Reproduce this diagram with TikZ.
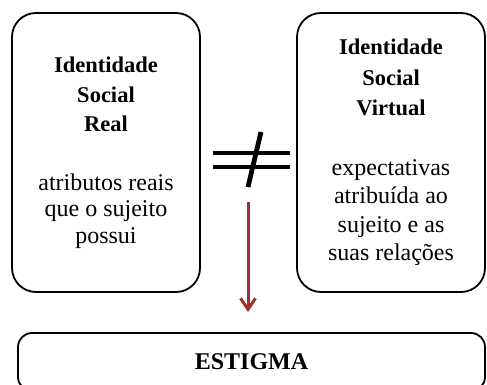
\documentclass[tikz,border=0pt]{standalone}
\usepackage{fontspec}
\setmainfont{Liberation Serif}
\usetikzlibrary{arrows.meta}
\definecolor{arrowred}{RGB}{158,48,48}
\tikzset{
  idbox/.style={draw=black, line width=1.8pt, rounded corners=24pt, fill=white,
    minimum width=188pt, minimum height=279pt, align=center, inner sep=0pt,
    font=\fontsize{24}{28.5}\selectfont},
  stigmabox/.style={draw=black, line width=1.8pt, rounded corners=14pt,
    minimum width=467pt, minimum height=58pt, inner sep=0pt,
    font=\fontsize{24}{28}\selectfont\bfseries},
  neqbar/.style={line width=4pt, black},
  neqslash/.style={line width=4.8pt, black},
  redarrow/.style={draw=arrowred, line width=3pt,
    -{Straight Barb[length=11pt,width=15pt,line width=3pt]}}
}
\newcommand{\ttl}[1]{{\fontsize{22.5}{28}\selectfont\bfseries #1}}
\begin{document}
\begin{tikzpicture}[x=1pt,y=-1pt]
\useasboundingbox (0,0) rectangle (487,385);
\clip (0,0) rectangle (487,385);
\node[idbox] (real) at (106,152.5) {\ttl{Identidade}\\[1pt]\ttl{Social}\\[1pt]\ttl{Real}\\[30pt]atributos reais\\[-2pt]que o sujeito\\[-2pt]possui};
\node[idbox] (virtual) at (391,152.5) {\ttl{Identidade}\\[2pt]\ttl{Social}\\[2pt]\ttl{Virtual}\\[31pt]expectativas\\atribuída ao\\sujeito e as\\suas relações};
\node[stigmabox] (estigma) at (251.5,362) {ESTIGMA};
% not-equal sign
\coordinate (b1l) at (213,153);
\coordinate (b1r) at (290,153);
\coordinate (b2l) at (213,167);
\coordinate (b2r) at (290,167);
\coordinate (st) at (261,132);
\coordinate (sb) at (248,187);
\draw[neqbar] (b1l) -- (b1r);
\draw[neqbar] (b2l) -- (b2r);
\draw[neqslash] (st) -- (sb);
% arrow
\coordinate (arrowstart) at (248,202);
\coordinate (arrowend) at (248,312);
\draw[redarrow] (arrowstart) -- (arrowend);
\end{tikzpicture}
\end{document}
